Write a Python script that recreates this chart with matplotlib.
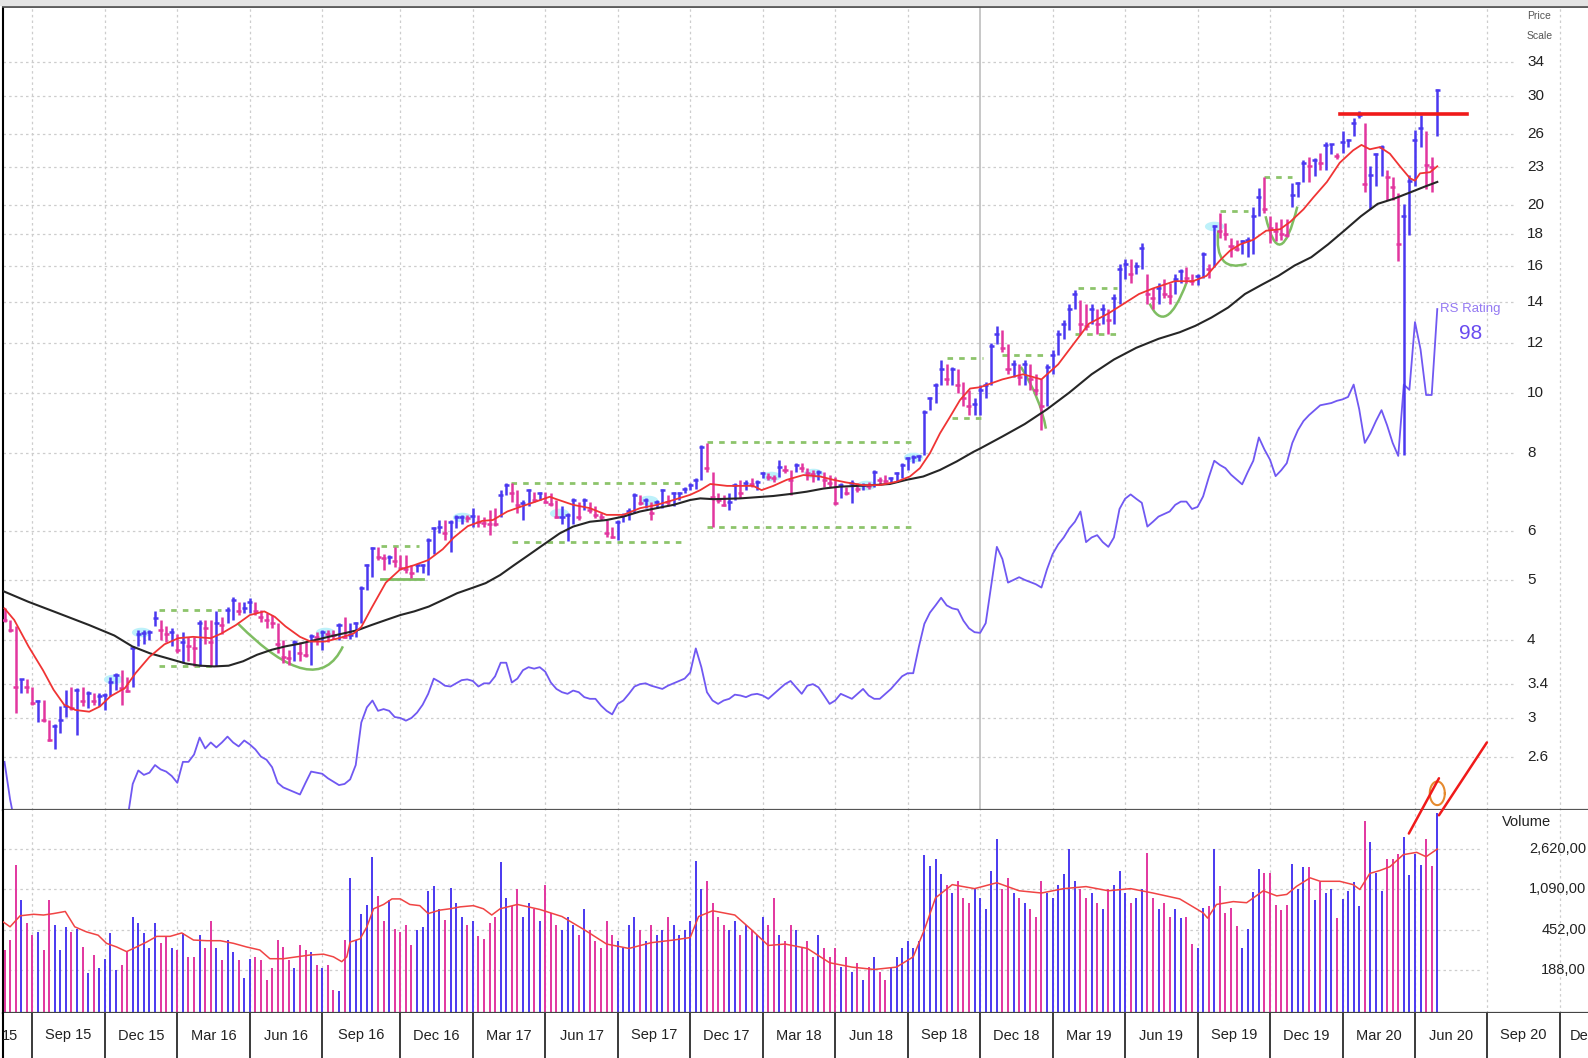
import numpy as np
import matplotlib.pyplot as plt
from matplotlib.collections import LineCollection
from matplotlib.patches import ConnectionPatch, PathPatch, Rectangle
from matplotlib.path import Path

plt.rcParams['font.family'] = ['Liberation Sans', 'DejaVu Sans']

# ==========================================
# DATA - weekly bars, week 0 = first bar on the chart (mid 2015)
# ==========================================
highs = [
    4.50, 4.31, 4.21, 3.47, 3.47, 3.37, 3.21, 3.21, 2.98, 2.93,
    3.13, 3.33, 3.37, 3.35, 3.37, 3.31, 3.29, 3.29, 3.29, 3.49,
    3.54, 3.58, 3.49, 3.91, 4.15, 4.15, 4.15, 4.45, 4.31, 4.21,
    4.18, 4.10, 4.13, 4.05, 4.05, 4.31, 4.31, 4.31, 4.45, 4.36,
    4.53, 4.70, 4.61, 4.61, 4.67, 4.61, 4.47, 4.42, 4.39, 4.26,
    4.00, 3.86, 4.00, 3.98, 3.98, 4.10, 4.13, 4.15, 4.15, 4.15,
    4.26, 4.36, 4.26, 4.28, 4.88, 5.31, 5.65, 5.65, 5.51, 5.48,
    5.65, 5.48, 5.48, 5.28, 5.31, 5.31, 5.83, 6.09, 6.24, 6.24,
    6.24, 6.36, 6.36, 6.36, 6.52, 6.36, 6.32, 6.48, 6.52, 6.97,
    7.15, 7.15, 6.97, 6.72, 7.01, 6.93, 6.93, 6.93, 6.89, 6.72,
    6.56, 6.40, 6.76, 6.68, 6.76, 6.68, 6.56, 6.40, 6.24, 6.09,
    6.24, 6.40, 6.52, 6.89, 6.85, 6.76, 6.68, 6.72, 7.01, 6.85,
    6.93, 6.93, 7.06, 7.15, 7.28, 8.23, 8.29, 7.46, 6.89, 6.85,
    6.89, 7.15, 7.24, 7.24, 7.28, 7.24, 7.46, 7.42, 7.37, 7.79,
    7.65, 7.51, 7.70, 7.70, 7.56, 7.51, 7.51, 7.46, 7.37, 7.33,
    7.15, 7.06, 7.24, 7.15, 7.15, 7.19, 7.51, 7.33, 7.37, 7.33,
    7.46, 7.70, 7.89, 7.94, 7.94, 9.37, 9.85, 10.35, 11.3, 11.1,
    11.0, 10.9, 10.4, 10.1, 9.8, 10.3, 10.4, 12.0, 12.8, 12.6,
    11.95, 11.3, 11.1, 11.3, 11.1, 10.7, 10.5, 11.1, 11.7, 12.6,
    13.1, 13.9, 14.6, 14.1, 13.9, 13.9, 13.6, 13.9, 13.6, 14.4,
    16.1, 16.4, 16.4, 16.2, 17.4, 15.5, 14.7, 15.0, 15.2, 15.0,
    15.5, 15.8, 15.9, 15.5, 15.5, 16.8, 16.1, 18.6, 19.4, 18.7,
    17.7, 17.6, 17.6, 17.8, 19.9, 21.3, 22.2, 19.2, 18.8, 19.0,
    19.0, 21.7, 21.8, 23.6, 23.9, 23.8, 24.3, 25.3, 25.1, 24.3,
    26.3, 25.6, 27.6, 28.3, 27.1, 23.1, 24.3, 25.0, 22.8, 22.2,
    20.9, 20.1, 22.4, 26.4, 27.9, 26.3, 23.9, 30.8]

lows = [
    4.28, 4.13, 3.05, 3.29, 3.29, 3.15, 2.96, 2.96, 2.75, 2.67,
    2.84, 3.01, 3.09, 2.82, 3.13, 3.11, 3.15, 3.13, 3.09, 3.25,
    3.33, 3.15, 3.30, 3.37, 3.91, 3.95, 4.00, 4.21, 4.00, 3.98,
    3.91, 3.81, 3.67, 3.70, 3.63, 3.63, 3.95, 3.63, 3.63, 4.10,
    4.26, 4.31, 4.39, 4.42, 4.42, 4.39, 4.28, 4.18, 4.18, 3.81,
    3.67, 3.65, 3.70, 3.70, 3.76, 3.65, 3.93, 3.86, 3.98, 4.02,
    4.00, 4.03, 4.02, 4.05, 4.26, 4.82, 5.06, 5.38, 5.19, 5.31,
    5.25, 5.19, 5.12, 5.03, 5.15, 5.12, 5.09, 5.51, 5.94, 5.80,
    5.55, 6.05, 6.16, 6.20, 6.09, 6.09, 6.09, 5.90, 6.10, 6.32,
    6.84, 6.68, 6.40, 6.24, 6.56, 6.68, 6.72, 6.64, 6.56, 6.28,
    6.16, 5.77, 6.14, 6.24, 6.48, 6.40, 6.28, 6.24, 5.87, 5.83,
    5.80, 6.20, 6.24, 6.40, 6.60, 6.52, 6.24, 6.52, 6.52, 6.56,
    6.56, 6.72, 6.89, 6.97, 7.01, 7.24, 7.46, 6.09, 6.64, 6.56,
    6.48, 6.72, 6.76, 6.97, 7.06, 6.97, 7.28, 7.24, 7.19, 7.33,
    7.42, 6.85, 7.46, 7.46, 7.24, 7.19, 7.24, 7.06, 7.06, 6.60,
    6.76, 6.85, 6.64, 6.93, 6.97, 7.01, 7.06, 7.10, 7.15, 7.15,
    7.19, 7.28, 7.51, 7.70, 7.75, 7.94, 9.37, 9.61, 10.3, 10.3,
    10.3, 10.0, 9.5, 9.2, 9.2, 9.2, 9.8, 10.3, 11.95, 11.6,
    10.7, 10.6, 10.3, 10.3, 10.1, 9.9, 8.7, 9.5, 10.7, 11.5,
    12.2, 12.6, 13.6, 12.4, 12.6, 12.9, 12.4, 12.9, 12.4, 12.9,
    13.9, 15.2, 15.0, 15.5, 15.8, 13.9, 13.6, 13.9, 14.2, 13.9,
    14.4, 15.0, 15.0, 14.9, 14.9, 15.3, 15.3, 15.9, 17.7, 17.6,
    16.5, 16.9, 16.7, 16.5, 16.7, 19.2, 19.4, 17.4, 17.5, 17.6,
    17.8, 19.9, 20.6, 21.8, 21.8, 22.3, 22.8, 22.8, 24.2, 23.7,
    24.3, 24.8, 25.8, 27.6, 21.0, 19.7, 21.5, 22.3, 20.4, 20.4,
    16.3, 7.95, 17.9, 21.5, 24.8, 21.2, 21.0, 25.8]

closes = [
    4.31, 4.16, 3.37, 3.47, 3.37, 3.17, 3.20, 2.98, 2.77, 2.91,
    2.98, 3.13, 3.11, 3.33, 3.19, 3.29, 3.19, 3.25, 3.27, 3.43,
    3.52, 3.35, 3.32, 3.88, 4.10, 4.11, 4.13, 4.34, 4.15, 4.10,
    4.12, 3.86, 3.98, 3.91, 3.89, 4.26, 4.18, 3.98, 4.26, 4.23,
    4.47, 4.64, 4.45, 4.50, 4.61, 4.45, 4.36, 4.31, 4.26, 3.95,
    3.76, 3.74, 3.98, 3.81, 3.79, 4.07, 4.05, 4.13, 4.10, 4.08,
    4.23, 4.05, 4.08, 4.26, 4.85, 5.28, 5.62, 5.45, 5.42, 5.44,
    5.36, 5.22, 5.20, 5.12, 5.28, 5.29, 5.80, 6.05, 6.08, 5.94,
    6.20, 6.30, 6.31, 6.28, 6.34, 6.20, 6.18, 6.16, 6.14, 6.84,
    7.10, 6.89, 6.60, 6.64, 6.97, 6.72, 6.90, 6.68, 6.62, 6.30,
    6.32, 6.36, 6.72, 6.32, 6.72, 6.48, 6.36, 6.32, 5.94, 5.87,
    6.20, 6.36, 6.44, 6.85, 6.64, 6.72, 6.40, 6.68, 6.97, 6.68,
    6.89, 6.90, 7.01, 7.10, 7.24, 8.18, 7.56, 6.80, 6.72, 6.60,
    6.68, 7.10, 6.89, 7.15, 7.12, 7.19, 7.42, 7.33, 7.28, 7.60,
    7.51, 7.24, 7.65, 7.56, 7.42, 7.40, 7.46, 7.24, 7.15, 6.64,
    7.10, 6.89, 7.15, 7.01, 7.10, 7.08, 7.46, 7.24, 7.22, 7.28,
    7.42, 7.65, 7.84, 7.89, 7.90, 9.31, 9.79, 10.28, 10.9, 10.5,
    10.9, 10.3, 9.8, 9.5, 9.6, 10.1, 10.3, 11.9, 12.4, 11.8,
    10.9, 11.1, 10.6, 11.1, 10.5, 10.1, 9.5, 11.0, 11.5, 12.4,
    12.9, 13.6, 14.4, 12.9, 12.8, 13.6, 12.9, 13.6, 13.1, 14.2,
    15.8, 16.1, 15.5, 16.0, 17.1, 14.4, 14.2, 14.7, 14.4, 14.3,
    15.2, 15.7, 15.3, 15.1, 15.4, 16.7, 15.8, 18.5, 18.2, 18.0,
    17.2, 17.0, 17.5, 17.6, 19.2, 20.6, 19.7, 18.4, 18.2, 18.0,
    17.9, 20.8, 21.7, 23.4, 23.1, 23.6, 23.4, 25.0, 25.05, 24.0,
    25.3, 25.5, 27.1, 27.9, 21.6, 22.4, 24.2, 24.8, 22.2, 21.4,
    17.3, 19.2, 21.9, 25.5, 26.6, 23.2, 23.0, 30.6]

# weekly volume, thousands of shares
volume_k = [
    290, 360, 1830, 860, 520, 400, 430, 290, 860, 500,
    290, 480, 430, 460, 310, 176, 260, 196, 240, 420,
    188, 210, 280, 600, 520, 420, 300, 520, 335, 390,
    300, 290, 420, 250, 250, 400, 300, 540, 300, 235,
    360, 280, 235, 157, 240, 250, 235, 152, 196, 360,
    310, 235, 196, 320, 290, 280, 210, 196, 210, 122,
    118, 360, 1380, 360, 640, 770, 2200, 930, 540, 860,
    460, 430, 500, 320, 450, 480, 1040, 1170, 710, 560,
    1120, 800, 600, 500, 540, 390, 370, 520, 600, 1950,
    900, 750, 1100, 600, 800, 700, 550, 1200, 650, 500, 450, 600,
    500, 400, 700, 450, 350, 300, 550, 400, 350,
    300, 500, 600, 450, 350, 500, 400, 450, 600, 500, 400, 450, 550,
    2000, 1100, 1300,
    800, 600, 500, 450, 550, 400, 500, 450, 400,
    600, 500, 900, 400, 350, 500, 450, 300, 350, 250, 400, 300, 250,
    300, 200, 250, 180, 220, 150, 200, 250, 180, 150, 200, 250, 300, 350, 300, 350,
    2300, 1800, 2100, 1500, 1200, 1000, 1300, 900, 800, 1100, 900, 700, 1600,
    3200, 1100, 1400, 1000, 900, 800, 700, 600, 1300, 1000, 900, 1200, 1500,
    2600, 1300, 1100, 900, 1000, 800, 700, 1100, 1200, 1600, 1000, 800, 900,
    1100, 2400, 900, 700, 800, 600, 700,
    580, 600, 330, 300, 720, 750, 2600, 1160, 650, 720,
    490, 300, 460, 1020, 1700, 1530, 1530, 770, 690, 770,
    1870, 1080, 1770, 1770, 860, 1270, 990, 1100, 580, 880,
    1050, 1270, 750, 4750, 3000, 1530, 1050, 2100, 2100, 2350,
    3350, 1480, 2350, 1830, 3200, 1800, 5700]

# relative strength line, drawn on the price scale
rs_line = [
    2.55, 2.22, 2.0, 2.0, 2.0, 2.0, 2.0, 2.0, 2.0, 2.0,
    2.0, 2.0, 2.0, 2.0, 2.0, 2.0, 2.0, 2.0, 2.0, 2.0,
    2.0, 2.0, 2.05, 2.35, 2.47, 2.43, 2.45, 2.52, 2.48, 2.46,
    2.42, 2.36, 2.55, 2.55, 2.62, 2.79, 2.68, 2.74, 2.69, 2.74,
    2.80, 2.74, 2.70, 2.76, 2.72, 2.67, 2.60, 2.57, 2.50, 2.36,
    2.32, 2.30, 2.28, 2.26, 2.36, 2.46, 2.45, 2.44, 2.40, 2.37,
    2.34, 2.35, 2.39, 2.52, 2.95, 3.12, 3.20, 3.08, 3.10, 3.08,
    3.01, 3.00, 2.97, 3.00, 3.06, 3.15, 3.28, 3.47, 3.43, 3.38,
    3.37, 3.41, 3.45, 3.46, 3.44, 3.37, 3.41, 3.41, 3.50, 3.68,
    3.68, 3.42, 3.47, 3.58, 3.62, 3.60, 3.62, 3.56, 3.42, 3.34,
    3.30, 3.28, 3.32, 3.30, 3.24, 3.22, 3.22, 3.14, 3.08, 3.04,
    3.16, 3.20, 3.28, 3.37, 3.40, 3.41, 3.38, 3.36, 3.34, 3.38,
    3.41, 3.44, 3.47, 3.55, 3.88, 3.62, 3.30, 3.20, 3.16, 3.20,
    3.22, 3.27, 3.26, 3.24, 3.27, 3.28, 3.26, 3.22, 3.28, 3.34,
    3.40, 3.44, 3.36, 3.28, 3.38, 3.40, 3.36, 3.26, 3.16, 3.20,
    3.28, 3.25, 3.22, 3.28, 3.34, 3.26, 3.22, 3.22, 3.28, 3.34,
    3.42, 3.50, 3.54, 3.54, 3.90, 4.25, 4.43, 4.55, 4.68, 4.55,
    4.50, 4.48, 4.30, 4.18, 4.12, 4.11, 4.26, 4.90, 5.65, 5.40,
    4.95, 5.00, 5.05, 5.00, 4.96, 4.92, 4.86, 5.20, 5.50, 5.70,
    5.85, 6.05, 6.20, 6.44, 5.75, 5.85, 5.90, 5.75, 5.65, 5.85,
    6.50, 6.75, 6.86, 6.75, 6.65, 6.09, 6.20, 6.32, 6.38, 6.44,
    6.60, 6.68, 6.68, 6.50, 6.55, 6.81, 7.30, 7.77, 7.65, 7.56,
    7.38, 7.25, 7.12, 7.45, 7.77, 8.47, 8.10, 7.80, 7.34, 7.50,
    7.70, 8.30, 8.70, 9.00, 9.20, 9.37, 9.54, 9.58, 9.62, 9.70,
    9.75, 9.84, 10.30, 9.40, 8.30, 8.60, 9.00, 9.37, 8.86, 8.30,
    7.91, 10.30, 10.10, 12.98, 11.73, 9.91, 9.91, 13.62]

# moving averages (week, value)
ma10_weeks = [0, 1.75, 4.3, 6.9, 8.8, 10.7, 12.7, 15.2, 17.1, 19, 21.6, 23.5, 26, 28.7, 31.2,
              33.8, 37, 38.9, 41.5, 44, 46.6, 48.5, 50.4, 53, 54.9, 57.5, 60, 62.6, 64, 65.8,
              68.4, 71, 73.5, 76, 78.6, 80.6, 83.1, 85.7, 87.6, 90.2, 92.7, 95.3, 97.8, 99, 102,
              105, 108, 111, 114, 117, 120, 123, 124.8, 126.6, 129.6, 132, 134.3, 135.8, 137.9,
              140.3, 143.3, 146.3, 148.7, 151, 154, 157, 160, 162.4, 164.2, 166, 167.8, 169.6,
              171.4, 173.2, 175, 179, 182.7, 186, 189, 191.7, 194.5, 198, 200.8, 203.5, 206,
              209.9, 213.2, 215.6, 218, 219.8, 221.6, 224, 226.3, 228.8, 230.6, 233, 234.8, 237.2,
              239.5, 241.9, 243.4, 244.9, 246.7, 248.5, 250.3, 252.1, 253, 253.9, 255.7, 257]
ma10_price = [4.50, 4.31, 3.91, 3.58, 3.33, 3.15, 3.09, 3.07, 3.13, 3.25, 3.35, 3.54, 3.76, 3.94,
              4.03, 4.05, 4.03, 4.10, 4.23, 4.39, 4.45, 4.36, 4.21, 4.05, 3.98, 3.98, 4.03, 4.10,
              4.20, 4.50, 4.95, 5.20, 5.28, 5.38, 5.60, 5.85, 6.10, 6.22, 6.24, 6.44, 6.56, 6.68,
              6.80, 6.74, 6.60, 6.52, 6.36, 6.36, 6.52, 6.60, 6.72, 6.85, 6.97, 7.13, 7.08, 7.08,
              7.08, 6.97, 7.08, 7.24, 7.37, 7.33, 7.24, 7.17, 7.10, 7.10, 7.19, 7.33, 7.56, 7.99,
              8.60, 9.14, 9.73, 10.15, 10.2, 10.5, 10.7, 10.5, 11.1, 11.95, 12.9, 13.4, 13.9, 14.4,
              14.7, 15.1, 15.1, 15.4, 16.3, 16.9, 17.3, 17.6, 18.2, 18.3, 18.8, 19.7, 20.6, 21.8,
              23.4, 24.5, 25.0, 24.6, 24.8, 24.2, 23.1, 22.1, 21.9, 22.5, 22.6, 23.1]

ma40_weeks = [-0.8, 4.3, 8.8, 15.2, 19.7, 22.9, 26.1, 29.3, 32.5, 35.1, 37.6, 40.2, 42.8, 45.3,
              47.9, 50.4, 53, 55.6, 58.1, 60.7, 63.3, 65.8, 68.4, 71, 73.5, 76.1, 78.6, 81.2, 83.8,
              86.3, 88.9, 91.4, 94, 96.6, 99.6, 102, 105, 108, 111, 114, 117, 120, 123, 124.8,
              127.2, 132, 137.9, 140.9, 143.9, 146.9, 149.9, 152.9, 155.9, 158.8, 161.8, 164.8,
              167.8, 170.8, 173.8, 175, 179, 183, 187, 191, 195, 199, 203, 207, 210.8, 213.6,
              216.5, 219.5, 222.5, 225.5, 228.5, 231.4, 234.4, 237.4, 240.3, 243.3, 246.3, 249.3,
              252.3, 254.6, 257]
ma40_price = [4.82, 4.61, 4.45, 4.23, 4.07, 3.91, 3.81, 3.74, 3.67, 3.64, 3.63, 3.64, 3.70, 3.79,
              3.86, 3.91, 3.95, 4.00, 4.05, 4.10, 4.15, 4.23, 4.31, 4.39, 4.45, 4.53, 4.64, 4.76,
              4.85, 4.94, 5.09, 5.28, 5.48, 5.69, 5.94, 6.09, 6.20, 6.24, 6.32, 6.44, 6.52, 6.60,
              6.72, 6.76, 6.74, 6.76, 6.82, 6.87, 6.93, 7.01, 7.06, 7.08, 7.10, 7.13, 7.24, 7.33,
              7.51, 7.75, 8.03, 8.13, 8.5, 8.9, 9.4, 10.0, 10.7, 11.3, 11.8, 12.2, 12.5, 12.8,
              13.2, 13.7, 14.4, 14.9, 15.4, 16.0, 16.5, 17.3, 18.2, 19.2, 20.1, 20.5, 21.0, 21.4,
              21.8]

vol_ma_weeks = [-0.8, 1, 2.8, 5.2, 7, 8.8, 10.9, 12.6, 14.7, 16.8, 18.3, 20.1, 21.9, 23.7, 25.5,
                27.3, 29.7, 31.8, 33.9, 36.3, 38.7, 41.1, 43.4, 45.8, 47.6, 50, 52.4, 54.8, 57.2,
                59, 60.5, 61.4, 62, 63.8, 65, 66.2, 68, 69.5, 71, 72.7, 74.5, 76, 78.1, 79.9, 81.7,
                84.1, 85.9, 87.4, 88.9, 92, 96, 100, 104, 108, 112, 116, 120, 123, 124.5, 127, 131,
                134, 137, 140, 144, 148, 152, 156, 160, 163, 165, 167, 170, 174, 178, 182, 186, 190,
                194, 198, 202, 206, 210.8, 215, 215.8, 217.4, 220.4, 222.8, 225.8, 228.2, 230,
                231.8, 234.2, 236, 239.5, 241.9, 243.1, 244.9, 246.7, 248.5, 250.9, 253.3, 255, 257]
vol_ma_k = [560, 480, 610, 630, 620, 640, 670, 480, 430, 400, 335, 310, 280, 310, 345, 390, 390,
            420, 360, 355, 355, 335, 310, 290, 240, 240, 250, 260, 265, 250, 225, 250, 345, 370,
            480, 710, 780, 880, 880, 780, 760, 640, 690, 710, 740, 760, 710, 620, 710, 780, 700,
            600, 450, 330, 300, 340, 360, 380, 600, 680, 620, 450, 320, 330, 300, 220, 200, 190,
            200, 250, 450, 900, 1200, 1100, 1250, 1050, 1000, 1100, 1150, 1050, 1100, 1000, 880,
            650, 580, 780, 830, 810, 1050, 940, 970, 1160, 1390, 1290, 1290, 1200, 1080, 1530,
            1630, 1770, 2300, 2420, 2200, 2600]

# first week of each quarter and its label (the two end labels are cut by the frame)
quarter_weeks = [-8, 5, 18, 31, 44, 57, 71, 84, 97, 110, 123, 136, 149, 162, 175, 188, 201,
                 214, 227, 240, 253, 266, 279, 292]
quarter_labels = ['15', 'Sep 15', 'Dec 15', 'Mar 16', 'Jun 16', 'Sep 16', 'Dec 16', 'Mar 17',
                  'Jun 17', 'Sep 17', 'Dec 17', 'Mar 18', 'Jun 18', 'Sep 18', 'Dec 18', 'Mar 19',
                  'Jun 19', 'Sep 19', 'Dec 19', 'Mar 20', 'Jun 20', 'Sep 20', 'De']

price_ticks = [34, 30, 26, 23, 20, 18, 16, 14, 12, 10, 8, 6, 5, 4, 3.4, 3, 2.6]
volume_ticks = [2620000, 1090000, 452000, 188000]
volume_tick_labels = ['2,620,00', '1,090,00', '452,00', '188,00']

# chart pattern markup: (from week, to week, price)
base_dashed = [(27.7, 38.8, 4.48), (27.7, 37.5, 3.63), (67.5, 74.3, 5.67),
               (90.8, 121.7, 7.16), (91.0, 121.7, 5.76), (126.0, 163.0, 8.34),
               (126.0, 163.0, 6.09), (169.0, 175.5, 11.38), (170.0, 176.0, 9.09),
               (179.0, 187.0, 11.5), (192.5, 199.5, 14.7), (192.0, 199.5, 12.4),
               (218.0, 223.0, 19.6), (226.0, 231.0, 22.2)]
base_solid = [(67.5, 75.0, 5.01)]
# cup / handle curves: start, lowest point, end
cups = [((41.8, 4.26), (53.6, 3.60), (60.7, 3.91)),
        ((182.3, 11.0), (185.2, 9.8), (186.8, 8.75)),
        ((205.4, 13.9), (208.5, 13.3), (212.0, 15.0)),
        ((217.7, 18.2), (218.6, 16.3), (222.8, 16.1)),
        ((226.2, 19.2), (228.9, 17.3), (231.9, 19.9))]
tight_closes = [(19.5, 3.47), (24.5, 4.12), (57.5, 4.13), (82, 6.31), (99.5, 6.40),
                (115.5, 6.72), (137.5, 7.35), (145, 7.42), (154.5, 7.10), (163, 7.88),
                (217, 18.5)]
pivot_weeks, pivot_price = (239.6, 262.3), 28.0
rs_rating = 98

n = len(closes)
assert len(highs) == n and len(lows) == n and len(volume_k) == n and len(rs_line) == n

# ==========================================
# LAYOUT (pixels of the 1588 x 1058 canvas)
# ==========================================
W, H = 1588, 1058
PX_WEEK, X0 = 5.575, 4.5          # bar spacing and position of week 0
UP, DOWN = '#4a38f0', '#e2369f'


def rect(left, top, right, bottom):
    return [left / W, 1 - bottom / H, (right - left) / W, (bottom - top) / H]


def week_at(px):
    return (px - X0) / PX_WEEK


fig = plt.figure(figsize=(W / 100, H / 100), dpi=100, facecolor='white')
fig.patches.append(Rectangle((0, 1 - 5 / H), 1, 5 / H, transform=fig.transFigure,
                             color='#e4e4e4', zorder=0))
ax_p = fig.add_axes(rect(3, 6, W, 810))
ax_v = fig.add_axes(rect(3, 810, W, 1013))
ax_d = fig.add_axes(rect(3, 1013, W, H))

xlim = (week_at(3), week_at(W))
for ax in (ax_p, ax_v, ax_d):
    ax.set_xlim(*xlim)
    ax.tick_params(which='both', left=False, right=False, bottom=False, top=False,
                   labelleft=False, labelbottom=False)
    ax.spines['right'].set_visible(False)
    ax.spines['left'].set_color('black')
    ax.spines['left'].set_linewidth(1.5)

ax_p.set_yscale('log')
ax_p.set_ylim(2.134, 41.8)
ax_p.spines['top'].set_color('#4a4a4a')
ax_p.spines['top'].set_linewidth(2)
ax_p.spines['bottom'].set_color('#555555')
ax_p.spines['bottom'].set_linewidth(1.6)

ax_v.set_yscale('log')
ax_v.set_ylim(73.8e3, 6.07e6)
ax_v.spines['top'].set_visible(False)
ax_v.spines['bottom'].set_color('#444444')
ax_v.spines['bottom'].set_linewidth(1.6)

ax_d.set_ylim(0, 1)
for s in ('top', 'bottom'):
    ax_d.spines[s].set_visible(False)

weeks = np.arange(n)
closes_a = np.array(closes)
up = np.r_[False, closes_a[1:] >= closes_a[:-1]]
cols = [UP if u else DOWN for u in up]

# ==========================================
# GRID
# ==========================================
grid_kw = dict(colors='#cdcdcd', linewidths=0.9, linestyles=(0, (2, 2.5)), zorder=0)
ax_p.hlines(price_ticks, xlim[0], week_at(1513), **grid_kw)
ax_v.hlines(volume_ticks, xlim[0], week_at(1480), **grid_kw)
for q in quarter_weeks[1:-1]:
    if q == 175:
        ax_p.axvline(q, color='#b8b8b8', lw=1.1, zorder=0)
    else:
        ax_p.axvline(q, color='#cdcdcd', lw=0.9, ls=(0, (2, 2.5)), zorder=0)
    ax_v.axvline(q, color='#cdcdcd', lw=0.9, ls=(0, (2, 2.5)), zorder=0)

# ==========================================
# PRICE PANEL
# ==========================================
ell = np.linspace(0, 2 * np.pi, 40)
ell_marker = Path(np.c_[np.cos(ell), 0.5 * np.sin(ell)])
tw, tp = zip(*tight_closes)
ax_p.scatter(tw, tp, marker=ell_marker, s=190, color='#bdf1fa', lw=0, zorder=1)

for a, b, p in base_dashed:
    ax_p.plot([a, b], [p, p], color='#8dc46b', lw=2, ls=(0, (2, 2.2)), zorder=2)
for a, b, p in base_solid:
    ax_p.plot([a, b], [p, p], color='#7fbd62', lw=2, zorder=2)
for p0, p1, p2 in cups:
    ctrl_y = 10 ** (2 * np.log10(p1[1]) - (np.log10(p0[1]) + np.log10(p2[1])) / 2)
    ctrl = (2 * p1[0] - (p0[0] + p2[0]) / 2, ctrl_y)
    cup = Path([p0, ctrl, p2], [Path.MOVETO, Path.CURVE3, Path.CURVE3])
    ax_p.add_patch(PathPatch(cup, fill=False, ec='#7fbd62', lw=1.8, zorder=2))

ax_p.plot(weeks, rs_line, color='#7058f2', lw=1.3, zorder=2)

bar_segs = [[(w, lo), (w, hi)] for w, lo, hi in zip(weeks, lows, highs)]
tick_segs = [[(w - 0.45, c), (w + 0.45, c)] for w, c in zip(weeks, closes)]
ax_p.add_collection(LineCollection(bar_segs, colors=cols, linewidths=1.8, zorder=3))
ax_p.add_collection(LineCollection(tick_segs, colors=cols, linewidths=1.8, zorder=3))

ax_p.plot(ma40_weeks, ma40_price, color='#262626', lw=1.5, zorder=4)
ax_p.plot(ma10_weeks, ma10_price, color='#f03434', lw=1.3, zorder=4)

ax_p.plot(pivot_weeks, [pivot_price] * 2, color='#f01a1a', lw=2.6, zorder=5)

for p in price_ticks:
    ax_p.text(week_at(1527), p, f'{p:g}', ha='left', va='center', fontsize=11,
              color='#222222')
fig.text(1527 / W, 1 - 16 / H, 'Price', fontsize=7.5, color='#555555', va='center')
fig.text(1527 / W, 1 - 36 / H, 'Scale', fontsize=7.5, color='#555555', va='center')

ax_p.text(257.5, 13.6, 'RS Rating', ha='left', va='center', fontsize=9.5, color='#9479f2')
ax_p.text(262.9, 12.45, str(rs_rating), ha='center', va='center', fontsize=15, color='#6a4cf0')

# ==========================================
# VOLUME PANEL
# ==========================================
volume = np.array(volume_k) * 1000.0
ax_v.vlines(weeks, 73.8e3, volume, colors=cols, linewidths=1.4, zorder=2)
ax_v.plot(vol_ma_weeks, np.array(vol_ma_k) * 1000.0, color='#f04444', lw=1.1, zorder=3)

for v, lbl in zip(volume_ticks, volume_tick_labels):
    ax_v.text(week_at(1586), v, lbl, ha='right', va='center', fontsize=10.5, color='#222222')
fig.text(1502 / W, 1 - 822 / H, 'Volume', fontsize=10.5, color='#222222', va='center')

# ==========================================
# DATE AXIS
# ==========================================
ax_d.vlines(quarter_weeks, 0, 1, colors='#3a3a3a', linewidths=1.4)
last = len(quarter_labels) - 1
for k, lbl in enumerate(quarter_labels):
    mid = (quarter_weeks[k] + quarter_weeks[k + 1]) / 2
    if k == 0:
        ax_d.text(week_at(18), 0.5, lbl, ha='right', va='center', fontsize=10.5, color='#222222')
    elif k == last:
        ax_d.text(week_at(1570), 0.5, lbl, ha='left', va='center', fontsize=10.5,
                  color='#222222')
    else:
        ax_d.text(mid, 0.5, lbl, ha='center', va='center', fontsize=10.5, color='#222222')

# ==========================================
# BREAKOUT MARKUP (spans price and volume panels)
# ==========================================
for (wa, va), (wb, pb) in [((251.9, 3.64e6), (257.3, 2.40)), ((257.3, 5.41e6), (265.9, 2.74))]:
    con = ConnectionPatch(xyA=(wa, va), coordsA=ax_v.transData, xyB=(wb, pb),
                          coordsB=ax_p.transData, color='#f01a1a', lw=1.8, zorder=6)
    fig.add_artist(con)
t = np.linspace(0, 2 * np.pi, 60)
ax_p.plot(257 + 1.35 * np.cos(t), 10 ** (np.log10(2.27) + 0.019 * np.sin(t)),
          color='#e58a2e', lw=1.5, zorder=6)

fig.savefig('out.png', dpi=100)
